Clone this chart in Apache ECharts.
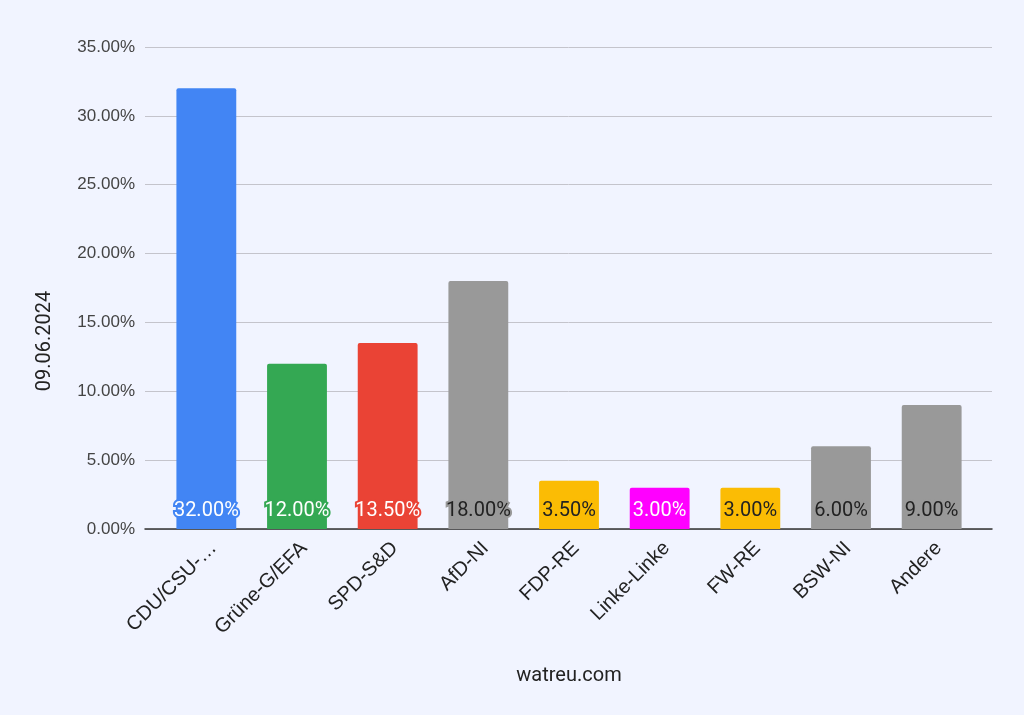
<!DOCTYPE html>
<html>
<head>
<meta charset="utf-8">
<script src="https://cdn.jsdelivr.net/npm/echarts@6/dist/echarts.min.js"></script>
<style>
html,body{margin:0;padding:0;background:#f1f4ff;}
#c{width:1024px;height:715px;}
</style>
</head>
<body>
<div id="c"></div>
<script>
const categories = ['CDU/CSU-…','Grüne-G/EFA','SPD-S&D','AfD-NI','FDP-RE','Linke-Linke','FW-RE','BSW-NI','Andere'];
const values = [32.0, 12.0, 13.5, 18.0, 3.5, 3.0, 3.0, 6.0, 9.0];
const barColors = ['#4285f4','#34a853','#ea4335','#999999','#fbbc04','#ff00ff','#fbbc04','#999999','#999999'];
const labelColors = ['#ffffff','#ffffff','#ffffff','#222222','#222222','#ffffff','#222222','#222222','#222222'];
const yAxisName = '09.06.2024';
const xAxisName = 'watreu.com';

const chart = echarts.init(document.getElementById('c'));
chart.setOption({
  backgroundColor: '#f1f4ff',
  animation: false,
  grid: [
    {left: 145, right: 32, top: 47, bottom: 186, containLabel: false},
    {left: 161, right: 47, top: 47, bottom: 186, containLabel: false}
  ],
  xAxis: [
    {
      type: 'category', gridIndex: 0, data: [''],
      axisLine: {lineStyle: {color: '#333', width: 1.5}},
      axisTick: {show: false}, axisLabel: {show: false}
    },
    {
      type: 'category', gridIndex: 1,
      data: categories,
      name: xAxisName,
      nameLocation: 'middle',
      nameGap: 137,
      nameTextStyle: {fontFamily: 'Roboto', fontSize: 20, color: '#222'},
      axisLine: {show: false},
      axisTick: {show: false},
      axisLabel: {rotate: 45, interval: 0, fontFamily: 'Liberation Sans', fontSize: 20, color: '#222',
        margin: 9, verticalAlign: 'top'}
    }
  ],
  yAxis: [
    {
      type: 'value', gridIndex: 0,
      min: 0, max: 35, interval: 5,
      axisLine: {show: false},
      axisTick: {show: false},
      splitLine: {lineStyle: {color: '#c4c4cc', width: 1}},
      axisLabel: {fontFamily: 'Liberation Sans', fontSize: 17, color: '#444', margin: 10,
        formatter: v => v.toFixed(2) + '%'}
    },
    {
      type: 'value', gridIndex: 1,
      min: 0, max: 35, interval: 5,
      show: false
    }
  ],
  graphic: [{
    type: 'text',
    x: 45, y: 341,
    rotation: Math.PI / 2,
    style: {text: yAxisName, fontFamily: 'Roboto', fontSize: 20, fill: '#222',
      align: 'center', verticalAlign: 'middle'}
  }],
  series: [{
    type: 'bar',
    xAxisIndex: 1, yAxisIndex: 1,
    barWidth: '66%',
    data: values.map((v, i) => ({
      value: v,
      itemStyle: {color: barColors[i], borderRadius: [2,2,0,0]},
      label: {color: labelColors[i], textBorderColor: barColors[i], textBorderWidth: 4}
    })),
    label: {
      show: true,
      position: 'insideBottom',
      distance: 8,
      fontFamily: 'Roboto',
      fontSize: 20,
      formatter: p => p.value.toFixed(2) + '%'
    }
  }]
});
</script>
</body>
</html>
